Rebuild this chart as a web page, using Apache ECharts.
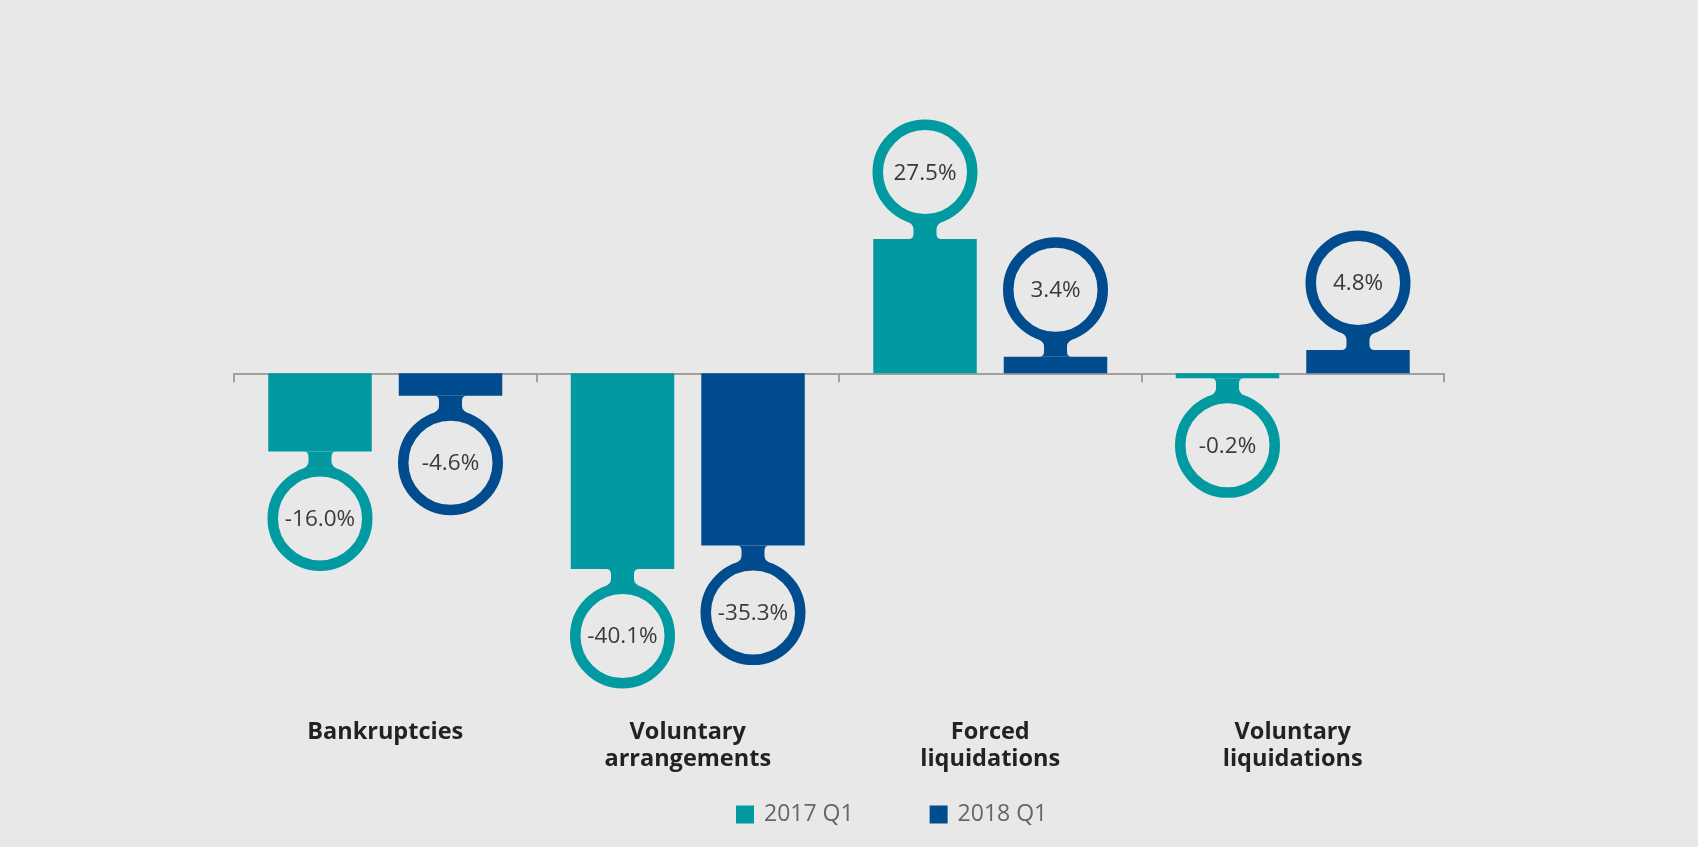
<!DOCTYPE html>
<html>
<head>
<meta charset="utf-8">
<script src="https://cdn.jsdelivr.net/npm/echarts@6/dist/echarts.min.js"></script>
<style>
  html, body { margin: 0; padding: 0; background: #e8e8e8; }
  #chart { width: 1698px; height: 847px; }
</style>
</head>
<body>
<div id="chart"></div>
<script>
const categories = ['Bankruptcies', 'Voluntary\narrangements', 'Forced\nliquidations', 'Voluntary\nliquidations'];
const values2017 = [-16.0, -40.1, 27.5, -0.2];
const values2018 = [-4.6, -35.3, 3.4, 4.8];
const seriesNames = ['2017 Q1', '2018 Q1'];
const colors = ['#009aa0', '#004c8f'];

const BG = '#e8e8e8';
const BAR_W = 103.5;
const BAR_GAP = 27;
const MIN_H = 5;
const RING_OFFSET = 67;
const RING_R = 47.25;
const RING_LW = 10.5;
const OUTER_R = RING_R + RING_LW / 2;

function makeRenderItem(sideSign, color) {
  return function (params, api) {
    const ci = api.value(0);
    const v = api.value(1);
    const p = api.coord([ci, v]);
    const p0 = api.coord([ci, 0]);
    const cx = p0[0] + sideSign * (BAR_W + BAR_GAP) / 2;
    const s = v >= 0 ? -1 : 1;
    let ye = p[1];
    if (Math.abs(ye - p0[1]) < MIN_H) ye = p0[1] + s * MIN_H;
    const yc = ye + s * RING_OFFSET;
    const w = 11.5, f1 = 5, f2 = 9;
    const joinY = Math.sqrt(OUTER_R * OUTER_R - w * w);
    const joinY2 = Math.sqrt(OUTER_R * OUTER_R - (w + f2) * (w + f2));
    const path = [
      'M', cx - w - f1, ye,
      'Q', cx - w, ye, cx - w, ye + s * f1,
      'L', cx - w, yc - s * (joinY + f2 * 0.6),
      'Q', cx - w, yc - s * joinY, cx - w - f2, yc - s * joinY2,
      'L', cx, yc,
      'L', cx + w + f2, yc - s * joinY2,
      'Q', cx + w, yc - s * joinY, cx + w, yc - s * (joinY + f2 * 0.6),
      'L', cx + w, ye + s * f1,
      'Q', cx + w, ye, cx + w + f1, ye,
      'Z'
    ].join(' ');
    return {
      type: 'group',
      children: [
        { type: 'path', shape: { pathData: path }, style: { fill: color } },
        { type: 'circle', shape: { cx: cx, cy: yc, r: RING_R },
          style: { fill: BG, stroke: color, lineWidth: RING_LW } },
        { type: 'text', style: {
            text: v.toFixed(1) + '%', x: cx, y: yc + 1,
            align: 'center', verticalAlign: 'middle',
            font: '22.5px "Open Sans"', fill: '#3a3a3a' } }
      ]
    };
  };
}

const chart = echarts.init(document.getElementById('chart'));
chart.setOption({
  backgroundColor: BG,
  animation: false,
  grid: { left: 234, right: 254, top: 178.1, bottom: 229.7, containLabel: false, outerBoundsMode: 'none' },
  legend: {
    data: seriesNames,
    left: 731, top: 798,
    icon: 'rect', itemWidth: 18, itemHeight: 18, itemGap: 76,
    textStyle: { fontSize: 23, color: '#666', fontFamily: 'Open Sans', padding: [0, 0, 0, 5] }
  },
  xAxis: [
    {
      type: 'category',
      data: categories,
      position: 'bottom',
      axisLine: { onZero: true, lineStyle: { color: '#a0a0a0', width: 2 } },
      axisTick: { show: true, length: 9, lineStyle: { color: '#a0a0a0', width: 2 } },
      axisLabel: { show: false }
    },
    {
      type: 'category',
      data: categories,
      position: 'bottom',
      axisLine: { show: false, onZero: false },
      axisTick: { show: false },
      axisLabel: {
        show: true, interval: 0, margin: 101,
        fontSize: 23.5, fontWeight: 'bold', lineHeight: 27.5,
        color: '#222', fontFamily: 'Open Sans'
      }
    }
  ],
  yAxis: { type: 'value', min: -50, max: 40, show: false, splitLine: { show: false } },
  series: [
    { name: seriesNames[0], type: 'bar', data: values2017, barWidth: BAR_W,
      barGap: (BAR_GAP / BAR_W * 100) + '%', barMinHeight: MIN_H,
      itemStyle: { color: colors[0] } },
    { name: seriesNames[1], type: 'bar', data: values2018, barWidth: BAR_W,
      barGap: (BAR_GAP / BAR_W * 100) + '%', barMinHeight: MIN_H,
      itemStyle: { color: colors[1] } },
    { name: 'ring2017', type: 'custom', z: 3, clip: false,
      renderItem: makeRenderItem(-1, colors[0]),
      data: values2017.map((v, i) => [i, v]) },
    { name: 'ring2018', type: 'custom', z: 3, clip: false,
      renderItem: makeRenderItem(1, colors[1]),
      data: values2018.map((v, i) => [i, v]) }
  ]
});
</script>
</body>
</html>
